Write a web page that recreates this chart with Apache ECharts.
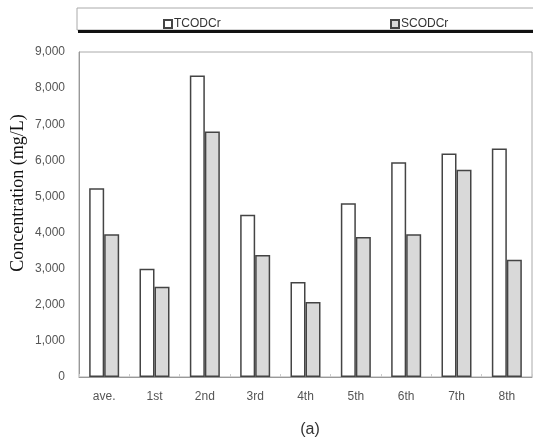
<!DOCTYPE html>
<html><head><meta charset="utf-8">
<script src="https://cdn.jsdelivr.net/npm/echarts@6/dist/echarts.min.js"></script>
<style>html,body{margin:0;padding:0;background:#fff}#c{width:533px;height:438px}</style>
</head><body><div id="c"></div>
<script>
var categories = ['ave.', '1st', '2nd', '3rd', '4th', '5th', '6th', '7th', '8th'];
var tcodValues = [5230, 3000, 8350, 4490, 2630, 4810, 5950, 6190, 6330];
var scodValues = [3950, 2500, 6800, 3380, 2080, 3880, 3950, 5740, 3250];
var yTicks = {min: 0, max: 9000, interval: 1000};

var chart = echarts.init(document.getElementById('c'), null, {renderer: 'canvas'});
chart.setOption({
  animation: false,
  backgroundColor: '#fff',
  graphic: [
    {type: 'rect', shape: {x: 77, y: 8, width: 470, height: 22}, style: {fill: '#fff', stroke: '#aaa', lineWidth: 1}, z: 0},
    {type: 'line', shape: {x1: 78, y1: 31.5, x2: 533, y2: 31.5}, style: {stroke: '#111', lineWidth: 3}, z: 1},
    {type: 'text', x: 18, y: 193, rotation: Math.PI / 2,
      style: {text: 'Concentration (mg/L)', font: '18px "Liberation Serif"', fill: '#111', textAlign: 'center', textVerticalAlign: 'middle'}}
  ],
  title: {text: '(a)', left: 305, top: 417, textAlign: 'center',
    textStyle: {fontFamily: 'Liberation Sans', fontSize: 16, fontWeight: 'normal', color: '#333'}},
  legend: [
    {data: ['TCODCr'], left: 158, top: 13, icon: 'rect', itemWidth: 8, itemHeight: 8, itemGap: 3, z: 5,
      textStyle: {fontFamily: 'Liberation Sans', fontSize: 12, color: '#333', padding: [0, 0, 0, -3]}},
    {data: ['SCODCr'], left: 385, top: 13, icon: 'rect', itemWidth: 8, itemHeight: 8, itemGap: 3, z: 5,
      textStyle: {fontFamily: 'Liberation Sans', fontSize: 12, color: '#333', padding: [0, 0, 0, -3]}}
  ],
  grid: {left: 79, right: 1, top: 52, bottom: 61, show: true, borderColor: '#aaa', borderWidth: 1, containLabel: false},
  xAxis: {
    type: 'category', data: categories,
    axisLine: {lineStyle: {color: '#999', width: 1}},
    axisTick: {show: true, inside: true, length: 3, lineStyle: {color: '#ccc'}},
    axisLabel: {margin: 14, fontFamily: 'Liberation Sans', fontSize: 12, color: '#555'}
  },
  yAxis: {
    type: 'value', min: yTicks.min, max: yTicks.max, interval: yTicks.interval,
    axisLine: {show: true, lineStyle: {color: '#999', width: 1}},
    axisTick: {show: false},
    splitLine: {show: false},
    axisLabel: {margin: 14, fontFamily: 'Liberation Sans', fontSize: 12, color: '#555',
      formatter: function (v) { return v.toLocaleString('en-US'); }}
  },
  series: [
    {name: 'TCODCr', type: 'bar', data: tcodValues, barWidth: 15, barGap: '0%',
      itemStyle: {color: '#fff', borderColor: '#444', borderWidth: 1.5}},
    {name: 'SCODCr', type: 'bar', data: scodValues, barWidth: 15, barGap: '0%',
      itemStyle: {color: '#d9d9d9', borderColor: '#444', borderWidth: 1.5}}
  ]
});
</script></body></html>
